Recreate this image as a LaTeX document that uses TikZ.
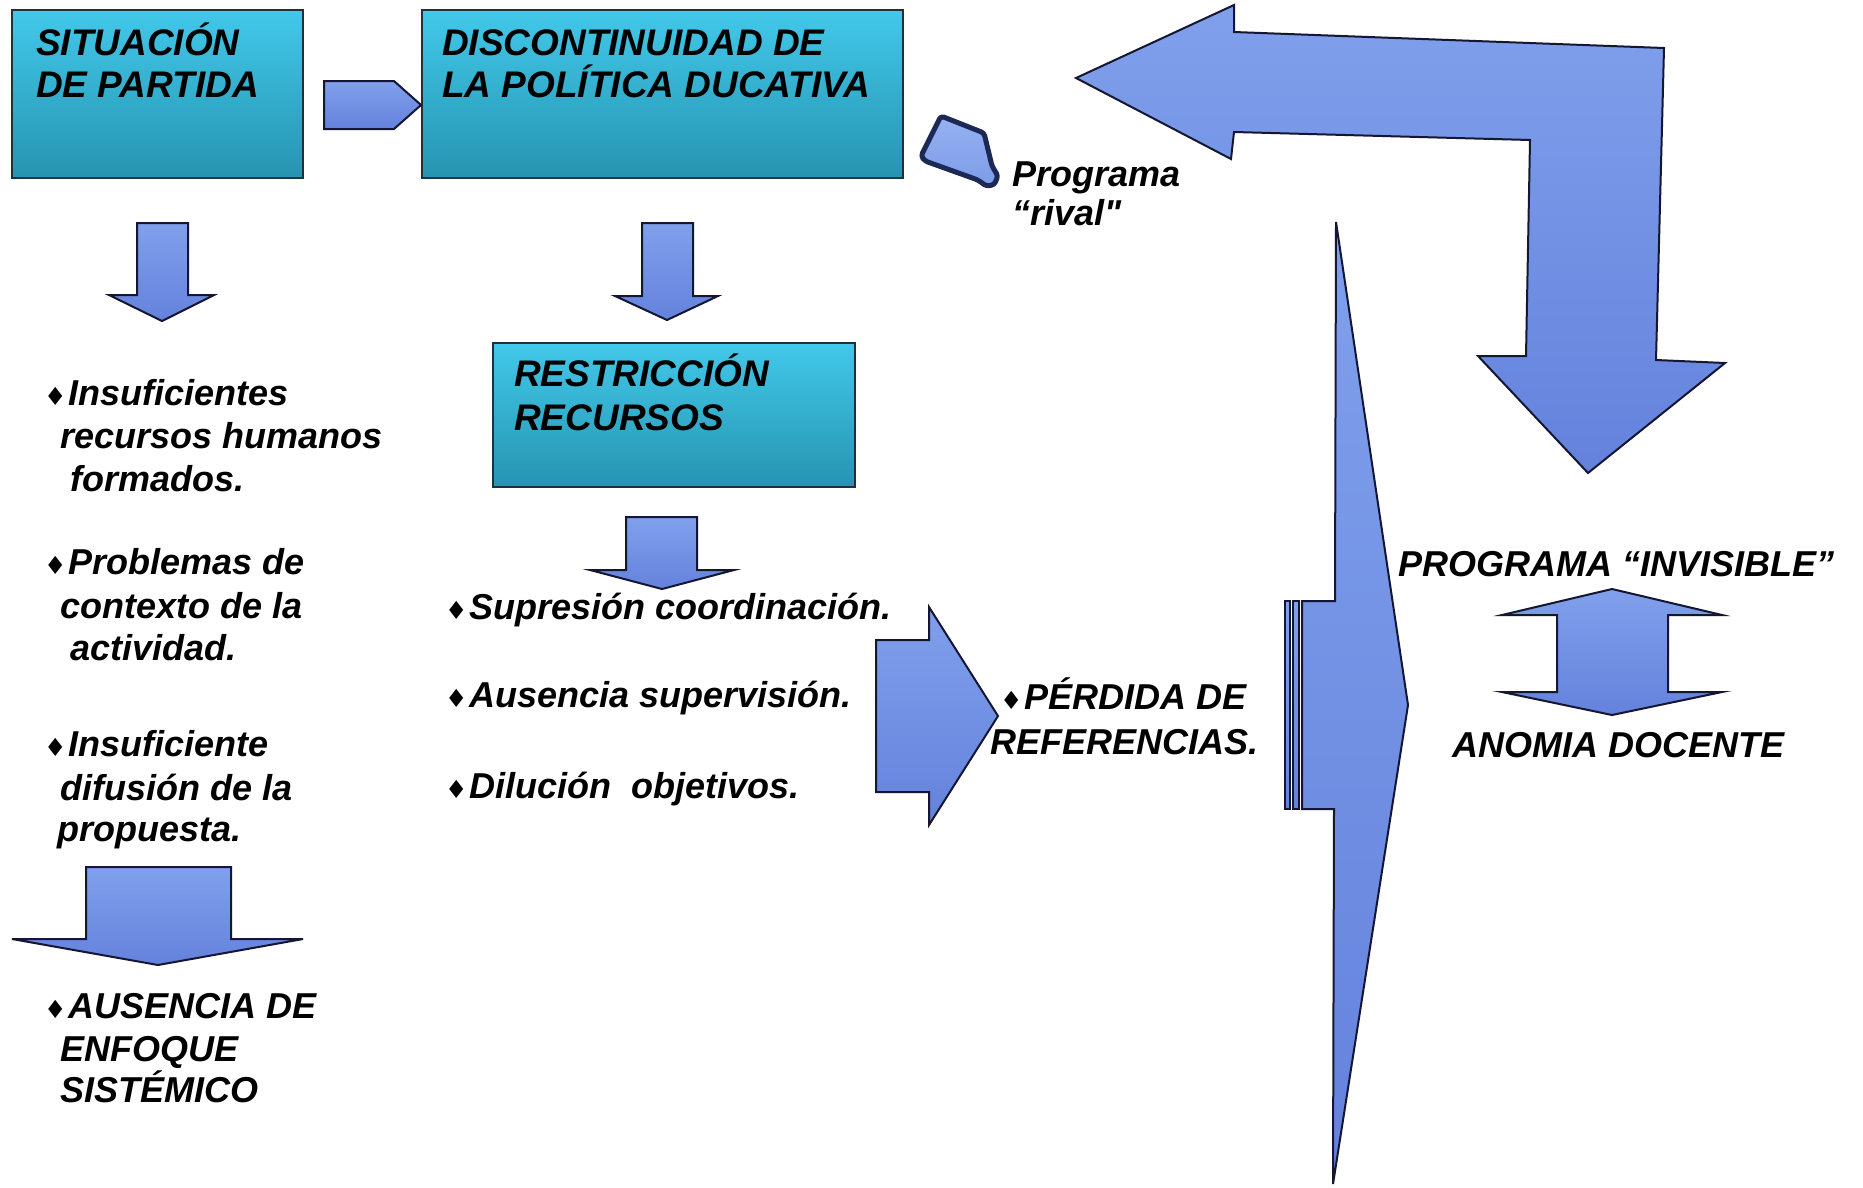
\documentclass[tikz,border=0pt]{standalone}
\usepackage{fontspec}
\setmainfont{Liberation Sans}[Ligatures=TeXOff]
\newfontfamily\symf{DejaVu Sans}
\newcommand\headf{\fontsize{37}{42}\selectfont\bfseries\itshape}
\newcommand\bodyf{\fontsize{36}{43}\selectfont\bfseries\itshape}
\newcommand\dia{\makebox[24pt][l]{\symf\fontsize{25}{25}\selectfont\itshape ♦}}
\definecolor{boxtop}{RGB}{66,200,234}
\definecolor{boxbot}{RGB}{38,148,176}
\definecolor{boxline}{RGB}{30,50,60}
\definecolor{arrtop}{RGB}{128,160,236}
\definecolor{arrbot}{RGB}{100,130,220}
\definecolor{arrline}{RGB}{20,22,50}
\definecolor{tagtop}{RGB}{150,178,242}
\definecolor{tagbot}{RGB}{125,155,232}
\definecolor{tagline}{RGB}{28,40,85}
\tikzset{
  box/.style={draw=boxline, line width=2, top color=boxtop, bottom color=boxbot, inner sep=0, outer sep=0, anchor=north west},
  blk/.style={draw=arrline, line width=2, top color=arrtop, bottom color=arrbot},
  hd/.style={anchor=base west, inner sep=0, font=\headf},
  tx/.style={anchor=base west, inner sep=0, font=\bodyf},
}
\begin{document}
\begin{tikzpicture}[x=1pt,y=-1pt]
\useasboundingbox[fill=white] (0,0) rectangle (1863,1187);

% boxes
\node[box, minimum width=291, minimum height=168] (b1) at (12,10) {};
\node[box, minimum width=481, minimum height=168] (b2) at (422,10) {};
\node[box, minimum width=362, minimum height=144] (b3) at (493,343) {};

\node[hd] (t1a) at (36,55) {SITUACIÓN};
\node[hd] (t1b) at (36,97) {DE PARTIDA};
\node[hd] (t2a) at (442,55) {DISCONTINUIDAD DE};
\node[hd] (t2b) at (442,97) {LA POLÍTICA DUCATIVA};
\node[hd] (t3a) at (514,386) {RESTRICCIÓN};
\node[hd] (t3b) at (514,430) {RECURSOS};

% small right arrow between boxes
\path[blk] (324,81) -- (394,81) -- (421,105) -- (394,129) -- (324,129) -- cycle;

% down arrows
\path[blk] (137,223) -- (188,223) -- (188,295) -- (214,295) -- (162,321) -- (109,295) -- (137,295) -- cycle;
\path[blk] (642,223) -- (693,223) -- (693,296) -- (718,296) -- (667,320) -- (615,296) -- (642,296) -- cycle;
\path[blk] (626,517) -- (697,517) -- (697,570) -- (734,570) -- (662,589) -- (590,570) -- (626,570) -- cycle;
\path[blk] (86,867) -- (231,867) -- (231,939) -- (303,939) -- (158,965) -- (12,939) -- (86,939) -- cycle;

% middle right arrow
\path[blk] (876,640) -- (929,640) -- (929,607) -- (998,716) -- (929,825) -- (929,792) -- (876,792) -- cycle;

% striped arrow with tall head
\path[blk] (1285,601) rectangle (1290,809);
\path[blk] (1293,601) rectangle (1299,809);
\path[blk] (1302,601) -- (1335,601) -- (1336,222) -- (1408,705) -- (1333,1184) -- (1334,809) -- (1302,809) -- cycle;

% bent arrow
\path[blk] (1076,78) -- (1234,5) -- (1234,32) -- (1664,48) -- (1656,360) -- (1725,363) -- (1588,473) -- (1478,356) -- (1526,356) -- (1530,140) -- (1234,132) -- (1231,159) -- cycle;

% double arrow
\path[blk] (1612,589) -- (1722,615) -- (1668,615) -- (1668,692) -- (1722,692) -- (1612,715) -- (1502,692) -- (1557,692) -- (1557,615) -- (1502,615) -- cycle;

% tag shape
\path[draw=tagline, line width=5, top color=tagtop, bottom color=tagbot, rounded corners=3, line join=round]
  (921,156) -- (941,116) -- (984,133) -- (992,166) -- (998,176) -- (994,185) -- (986,186) -- (978,180) -- (925,161) -- cycle;

% texts
\node[tx] (pr1) at (1012,186) {Programa};
\node[tx] (pr2) at (1012,225) {“rival"};

\node[tx] (l1a) at (44,405) {\dia Insuficientes};
\node[tx] (l1b) at (60,448) {recursos humanos};
\node[tx] (l1c) at (70,491) {formados.};
\node[tx] (l2a) at (44,574) {\dia Problemas de};
\node[tx] (l2b) at (60,618) {contexto de la};
\node[tx] (l2c) at (70,660) {actividad.};
\node[tx] (l3a) at (44,756) {\dia Insuficiente};
\node[tx] (l3b) at (60,800) {difusión de la};
\node[tx] (l3c) at (57,841) {propuesta.};
\node[tx] (l4a) at (44,1018) {\dia AUSENCIA DE};
\node[tx] (l4b) at (60,1061) {ENFOQUE};
\node[tx] (l4c) at (60,1102) {SISTÉMICO};

\node[tx] (m1) at (445,619) {\dia Supresión coordinación.};
\node[tx] (m2) at (445,707) {\dia Ausencia supervisión.};
\node[tx] (m3) at (445,798) {\dia Dilución~ objetivos.};

\node[tx] (pa) at (1000,709) {\dia PÉRDIDA DE};
\node[tx] (pb) at (990,754) {REFERENCIAS.};

\node[tx] (inv) at (1398,576) {PROGRAMA “INVISIBLE”};
\node[tx] (ano) at (1452,757) {ANOMIA DOCENTE};
\end{tikzpicture}
\end{document}
